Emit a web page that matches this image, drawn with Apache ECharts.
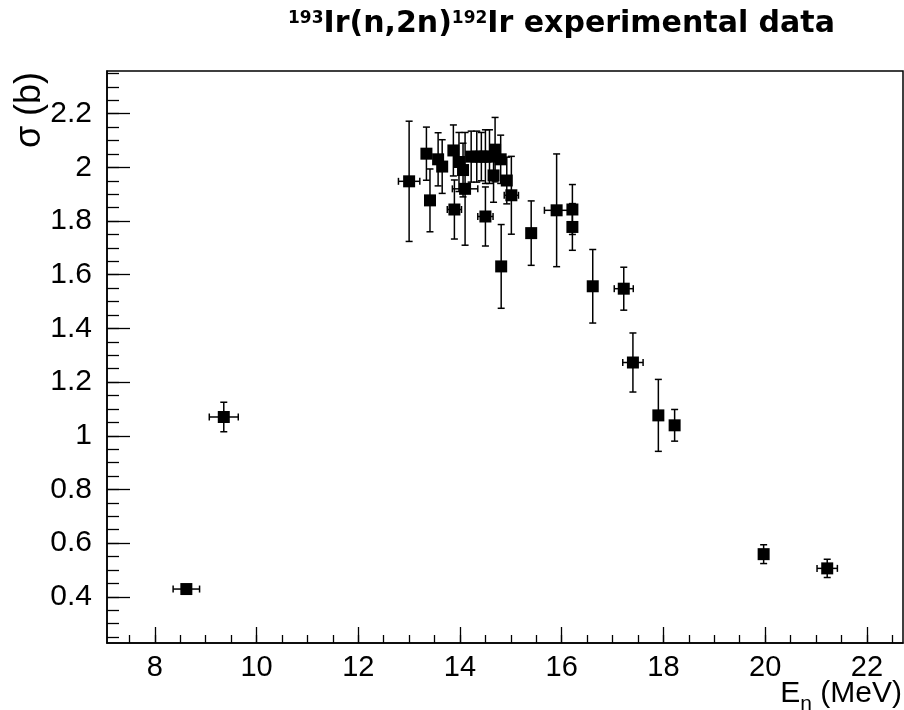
<!DOCTYPE html>
<html><head><meta charset="utf-8">
<script src="https://cdn.jsdelivr.net/npm/echarts@6/dist/echarts.min.js"></script>
<style>html,body{margin:0;padding:0;background:#fff}#c{width:904px;height:710px}</style>
</head><body><div id="c"></div>
<script>
// Neutron energy (MeV) and its uncertainty
const energy    = [8.62, 9.356, 13.00, 13.34, 13.41, 13.57, 13.65, 13.87, 13.89, 13.98, 14.06, 14.10, 14.22, 14.33, 14.42, 14.50, 14.50, 14.58, 14.66, 14.69, 14.80, 14.81, 14.92, 15.01, 15.40, 15.90, 16.21, 16.21, 16.61, 17.22, 17.40, 17.90, 18.22, 19.97, 21.22];
const energyErr = [0.26, 0.285, 0.21, 0, 0, 0, 0, 0, 0.14, 0, 0, 0.25, 0, 0, 0, 0, 0.15, 0, 0, 0, 0, 0, 0, 0.14, 0, 0.24, 0, 0, 0, 0.187, 0.2, 0, 0, 0.05, 0.2];
// Cross section (b) and its uncertainty
const sigma     = [0.429, 1.070, 1.948, 2.051, 1.877, 2.030, 2.003, 2.063, 1.843, 2.020, 1.990, 1.920, 2.040, 2.040, 2.040, 2.040, 1.817, 2.040, 1.970, 2.066, 2.030, 1.631, 1.951, 1.896, 1.755, 1.840, 1.843, 1.778, 1.557, 1.548, 1.273, 1.076, 1.039, 0.559, 0.506];
const sigmaErr  = [0.010, 0.055, 0.224, 0.099, 0.117, 0.099, 0.100, 0.095, 0.110, 0.110, 0.100, 0.210, 0.095, 0.095, 0.090, 0.100, 0.110, 0.100, 0.100, 0.120, 0.090, 0.156, 0.087, 0.145, 0.120, 0.210, 0.093, 0.087, 0.137, 0.080, 0.110, 0.134, 0.059, 0.035, 0.034];

// Tick positions
const xMajorTicks = [8, 10, 12, 14, 16, 18, 20, 22];
const xMinorTicks = [7.5, 8, 8.5, 9, 9.5, 10, 10.5, 11, 11.5, 12, 12.5, 13, 13.5, 14, 14.5, 15, 15.5, 16, 16.5, 17, 17.5, 18, 18.5, 19, 19.5, 20, 20.5, 21, 21.5, 22, 22.5];
const yMajorTicks = [0.4, 0.6, 0.8, 1.0, 1.2, 1.4, 1.6, 1.8, 2.0, 2.2];
const yMinorTicks = [0.25, 0.3, 0.35, 0.4, 0.45, 0.5, 0.55, 0.6, 0.65, 0.7, 0.75, 0.8, 0.85, 0.9, 0.95, 1.0, 1.05, 1.1, 1.15, 1.2, 1.25, 1.3, 1.35, 1.4, 1.45, 1.5, 1.55, 1.6, 1.65, 1.7, 1.75, 1.8, 1.85, 1.9, 1.95, 2.0, 2.05, 2.1, 2.15, 2.2, 2.25, 2.3, 2.35];

const X_MIN = 7.06, X_MAX = 22.71, Y_MIN = 0.228, Y_MAX = 2.359;
const FONT = 'Liberation Sans, Arial, Helvetica, sans-serif';
const TFONT = 'DejaVu Sans, Liberation Sans, sans-serif';

const chart = echarts.init(document.getElementById('c'), null, {renderer: 'canvas'});

function valAxis(min, max, pos, ticks, len, labels, fs, margin) {
  return {
    type: 'value', min: min, max: max, position: pos,
    axisLine: {show: labels, onZero: false, lineStyle: {color: '#000', width: 1.5}},
    axisTick: {show: true, inside: true, length: len, customValues: ticks, lineStyle: {color: '#000', width: 1.3}},
    axisLabel: labels ? {show: true, customValues: ticks, fontSize: fs, color: '#000', fontFamily: FONT, margin: margin,
      formatter: function (v) { return String(Math.round(v * 10) / 10); }} : {show: false},
    splitLine: {show: false}
  };
}

const errData = energy.map(function (e, i) { return [e, energyErr[i], sigma[i], sigmaErr[i]]; });
const ptData = energy.map(function (e, i) { return [e, sigma[i]]; });

const option = {
  animation: false,
  backgroundColor: '#fff',
  grid: {left: 107, right: 1, top: 71, bottom: 67, show: true, borderColor: '#000', borderWidth: 1.5, backgroundColor: 'transparent'},
  title: {
    text: '{sup|193}{b|Ir(n,2n)}{sup|192}{b|Ir experimental data}',
    left: 283, top: 4,
    textStyle: {
      rich: {
        b: {fontSize: 30, fontWeight: 'bold', fontFamily: TFONT, color: '#000'},
        sup: {fontSize: 17, fontWeight: 'bold', fontFamily: TFONT, color: '#000', padding: [0, 0, 10, 0]}
      }
    }
  },
  xAxis: [
    valAxis(X_MIN, X_MAX, 'bottom', xMajorTicks, 16, true, 29, 10),
    valAxis(X_MIN, X_MAX, 'bottom', xMinorTicks, 8, false)
  ],
  yAxis: [
    valAxis(Y_MIN, Y_MAX, 'left', yMajorTicks, 23, true, 30, 15),
    valAxis(Y_MIN, Y_MAX, 'left', yMinorTicks, 12, false)
  ],
  graphic: [
    {type: 'text', x: 30, y: 110, rotation: Math.PI / 2,
      style: {text: 'σ (b)', font: '36px ' + FONT, fill: '#000', textAlign: 'center', textVerticalAlign: 'middle'}},
    {type: 'text', x: 902, y: 694,
      style: {text: 'E{sub|n} (MeV)', font: '30px ' + FONT, fill: '#000', textAlign: 'right', textVerticalAlign: 'middle',
        rich: {sub: {fontSize: 21, fontFamily: FONT, padding: [20, 0, 0, 0]}}}}
  ],
  series: [
    {
      type: 'custom', xAxisIndex: 0, yAxisIndex: 0, data: errData, encode: {x: 0, y: 2}, z: 2,
      renderItem: function (params, api) {
        const x = api.value(0), dx = api.value(1), y = api.value(2), dy = api.value(3);
        const c = api.coord([x, y]);
        const t = api.coord([x, y + dy]), b = api.coord([x, y - dy]);
        const st = {stroke: '#000', lineWidth: 1.5};
        const cap = 3.5;
        const ch = [
          {type: 'line', shape: {x1: c[0], y1: t[1], x2: c[0], y2: b[1]}, style: st},
          {type: 'line', shape: {x1: c[0] - cap, y1: t[1], x2: c[0] + cap, y2: t[1]}, style: st},
          {type: 'line', shape: {x1: c[0] - cap, y1: b[1], x2: c[0] + cap, y2: b[1]}, style: st}
        ];
        if (dx > 0) {
          const l = api.coord([x - dx, y]), r = api.coord([x + dx, y]);
          ch.push({type: 'line', shape: {x1: l[0], y1: c[1], x2: r[0], y2: c[1]}, style: st});
          ch.push({type: 'line', shape: {x1: l[0], y1: c[1] - cap, x2: l[0], y2: c[1] + cap}, style: st});
          ch.push({type: 'line', shape: {x1: r[0], y1: c[1] - cap, x2: r[0], y2: c[1] + cap}, style: st});
        }
        return {type: 'group', children: ch};
      }
    },
    {
      type: 'scatter', xAxisIndex: 0, yAxisIndex: 0, data: ptData, symbol: 'rect', symbolSize: 12, z: 3,
      itemStyle: {color: '#000', opacity: 1}
    }
  ]
};
chart.setOption(option);
</script></body></html>
